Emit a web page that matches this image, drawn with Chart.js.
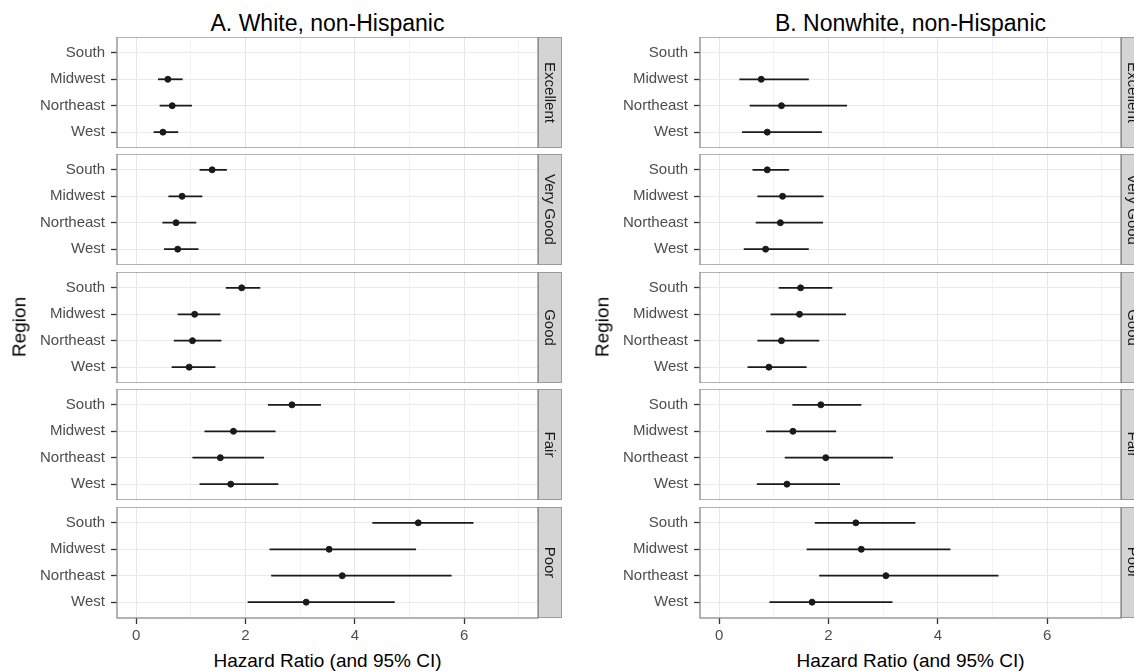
<!DOCTYPE html>
<html>
<head>
<meta charset="utf-8">
<script src="https://cdn.jsdelivr.net/npm/chart.js@4.4.1/dist/chart.umd.min.js"></script>
<style>
  body { margin: 0; width: 1134px; height: 671px; overflow: hidden; background: #fff; position: relative; font-family: "Liberation Sans", Arial, sans-serif; }
  canvas { position: absolute; }
  .txt { position: absolute; white-space: nowrap; line-height: 1; color: #000; }
</style>
</head>
<body>
<script>
// data
const regions = ['South', 'Midwest', 'Northeast', 'West'];
const healthLevels = ['Excellent', 'Very Good', 'Good', 'Fair', 'Poor'];
const xTickLabels = [0, 2, 4, 6];
const xGridValues = [0, 1, 2, 3, 4, 5, 6, 7];

// A. White, non-Hispanic (rows = health level, cols = region)
const whiteEst = [
  [null, 0.58, 0.66, 0.49],
  [1.39, 0.84, 0.73, 0.76],
  [1.93, 1.07, 1.03, 0.97],
  [2.85, 1.78, 1.54, 1.73],
  [5.16, 3.53, 3.77, 3.11]
];
const whiteLo = [
  [null, 0.40, 0.43, 0.32],
  [1.16, 0.59, 0.48, 0.51],
  [1.64, 0.76, 0.69, 0.65],
  [2.41, 1.25, 1.03, 1.16],
  [4.32, 2.44, 2.47, 2.04]
];
const whiteHi = [
  [null, 0.85, 1.02, 0.77],
  [1.66, 1.21, 1.10, 1.14],
  [2.27, 1.54, 1.56, 1.45],
  [3.38, 2.55, 2.34, 2.60],
  [6.17, 5.12, 5.77, 4.73]
];

// B. Nonwhite, non-Hispanic
const nonwhiteEst = [
  [null, 0.77, 1.14, 0.88],
  [0.88, 1.16, 1.12, 0.85],
  [1.49, 1.47, 1.14, 0.91],
  [1.86, 1.35, 1.95, 1.24],
  [2.50, 2.60, 3.05, 1.70]
];
const nonwhiteLo = [
  [null, 0.37, 0.56, 0.42],
  [0.61, 0.70, 0.67, 0.45],
  [1.09, 0.94, 0.70, 0.52],
  [1.34, 0.86, 1.20, 0.69],
  [1.75, 1.60, 1.83, 0.92]
];
const nonwhiteHi = [
  [null, 1.64, 2.34, 1.88],
  [1.28, 1.91, 1.90, 1.64],
  [2.07, 2.32, 1.83, 1.60],
  [2.60, 2.14, 3.18, 2.21],
  [3.59, 4.23, 5.11, 3.17]
];

Chart.defaults.font.family = '"Liberation Sans", Arial, sans-serif';
Chart.defaults.animation = false;

// layout
const panelTops = [37, 154, 272, 389, 507];
const panelH = 111;
const axisW = 117;
const plotW = 421;
const stripW = 24;
const xAxisH = 32;

const facetFrame = {
  id: 'facetFrame',
  afterDraw(chart, args, opts) {
    const ctx = chart.ctx;
    const a = chart.chartArea;
    ctx.save();
    // strip
    ctx.fillStyle = '#d4d4d4';
    ctx.fillRect(a.right, a.top, stripW, a.bottom - a.top);
    ctx.strokeStyle = '#9a9a9a';
    ctx.lineWidth = 1;
    ctx.strokeRect(a.right + 0.5, a.top + 0.5, stripW - 1, a.bottom - a.top - 1);
    ctx.translate(a.right + stripW / 2, (a.top + a.bottom) / 2);
    ctx.rotate(Math.PI / 2);
    ctx.fillStyle = '#1a1a1a';
    ctx.font = '15px "Liberation Sans", Arial, sans-serif';
    ctx.textAlign = 'center';
    ctx.textBaseline = 'middle';
    ctx.fillText(opts.label, 0, 1);
    ctx.restore();
    // panel border
    ctx.save();
    ctx.strokeStyle = '#8a8a8a';
    ctx.lineWidth = 1.3;
    ctx.strokeRect(a.left, a.top, a.right - a.left, a.bottom - a.top);
    ctx.restore();
  }
};

function noPad(s) {
  s.paddingTop = 0;
  s.paddingBottom = 0;
  s.paddingLeft = 0;
  s.paddingRight = 0;
}

function makeFacet(colLeft, i, est, lo, hi) {
  const isBottom = i === healthLevels.length - 1;
  const cv = document.createElement('canvas');
  cv.width = axisW + plotW + stripW;
  cv.height = panelH + (isBottom ? xAxisH : 0);
  cv.style.left = colLeft + 'px';
  cv.style.top = panelTops[i] + 'px';
  document.body.appendChild(cv);

  const datasets = [];
  const points = [];
  regions.forEach((r, j) => {
    if (est[i][j] === null) return;
    datasets.push({
      type: 'line',
      data: [{ x: lo[i][j], y: j + 1 }, { x: hi[i][j], y: j + 1 }],
      showLine: true,
      borderColor: '#1a1a1a',
      borderWidth: 1.8,
      pointRadius: 0,
      order: 2
    });
    points.push({ x: est[i][j], y: j + 1 });
  });
  datasets.push({
    type: 'scatter',
    data: points,
    backgroundColor: '#1a1a1a',
    borderColor: '#1a1a1a',
    pointRadius: 3,
    order: 1
  });

  new Chart(cv, {
    type: 'scatter',
    data: { datasets: datasets },
    options: {
      responsive: false,
      devicePixelRatio: 1,
      layout: { autoPadding: false, padding: { left: 0, right: stripW, top: 0, bottom: 0 } },
      plugins: {
        legend: { display: false },
        tooltip: { enabled: false },
        facetFrame: { label: healthLevels[i] }
      },
      scales: {
        x: {
          type: 'linear',
          min: -0.35,
          max: 7.35,
          afterBuildTicks: s => { s.ticks = xGridValues.map(v => ({ value: v })); },
          afterFit: s => { s.height = isBottom ? xAxisH : 0; noPad(s); },
          border: { display: false },
          grid: {
            color: c => xTickLabels.includes(c.tick.value) ? '#e6e6e6' : '#f2f2f2',
            lineWidth: 1,
            drawTicks: isBottom,
            tickLength: 6,
            tickWidth: 1.3,
            tickColor: c => xTickLabels.includes(c.tick.value) ? '#333333' : 'rgba(0,0,0,0)'
          },
          ticks: {
            display: isBottom,
            padding: 3,
            color: '#4d4d4d',
            font: { size: 15 },
            maxRotation: 0,
            autoSkip: false,
            callback: v => xTickLabels.includes(v) ? String(v) : ''
          }
        },
        y: {
          type: 'linear',
          reverse: true,
          min: 0.4,
          max: 4.6,
          afterBuildTicks: s => { s.ticks = regions.map((r, j) => ({ value: j + 1 })); },
          afterFit: s => { s.width = axisW; noPad(s); },
          border: { display: false },
          grid: {
            color: '#e9e9e9',
            lineWidth: 1,
            tickLength: 6,
            tickWidth: 1.3,
            tickColor: '#333333'
          },
          ticks: {
            padding: 6,
            color: '#4d4d4d',
            font: { size: 15 },
            autoSkip: false,
            callback: v => regions[v - 1]
          }
        }
      }
    },
    plugins: [facetFrame]
  });
}

function addText(txt, left, top, size, extra) {
  const d = document.createElement('div');
  d.className = 'txt';
  d.textContent = txt;
  d.style.left = left + 'px';
  d.style.top = top + 'px';
  d.style.fontSize = size + 'px';
  if (extra) Object.assign(d.style, extra);
  document.body.appendChild(d);
  return d;
}

const columns = [
  { left: 0, title: 'A. White, non-Hispanic', est: whiteEst, lo: whiteLo, hi: whiteHi },
  { left: 583, title: 'B. Nonwhite, non-Hispanic', est: nonwhiteEst, lo: nonwhiteLo, hi: nonwhiteHi }
];

columns.forEach(col => {
  healthLevels.forEach((h, i) => makeFacet(col.left, i, col.est, col.lo, col.hi));
  const cx = col.left + axisW + plotW / 2;
  addText(col.title, cx, 12, 23, { transform: 'translateX(-50%)' });
  addText('Hazard Ratio (and 95% CI)', cx, 651, 19, { transform: 'translateX(-50%)' });
  addText('Region', col.left + 19, 327, 19, { transform: 'translate(-50%,-50%) rotate(-90deg)' });
});
</script>
</body>
</html>
